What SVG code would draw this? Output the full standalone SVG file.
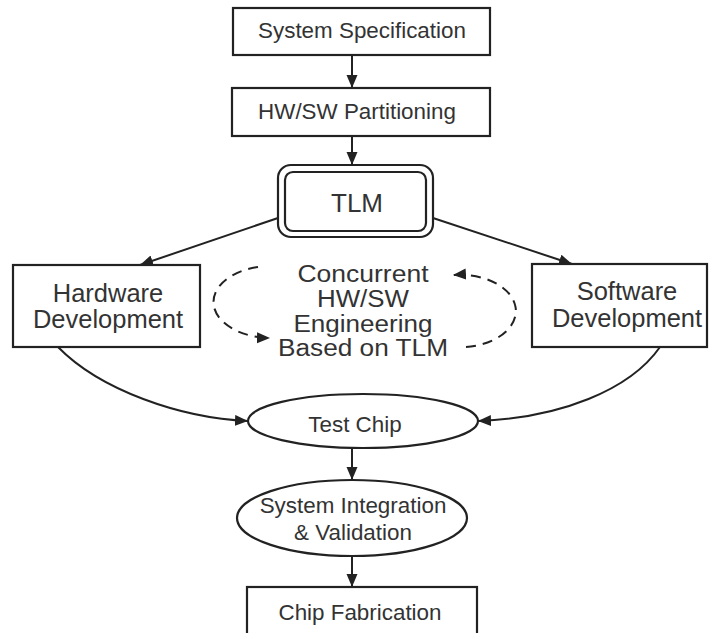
<svg xmlns="http://www.w3.org/2000/svg" width="710" height="633" viewBox="0 0 710 633">
  <defs>
    <marker id="ah" markerUnits="userSpaceOnUse" markerWidth="14" markerHeight="12" refX="13" refY="5.5" orient="auto">
      <path d="M0,0 L13,5.5 L0,11 z" fill="#222"/>
    </marker>
    <style>
      .box { fill: #fff; stroke: #222; stroke-width: 2.2; }
      .ln { fill: none; stroke: #222; stroke-width: 2; }
      .dash { fill: none; stroke: #222; stroke-width: 2; stroke-dasharray: 10 7; }
      text { font-family: "Liberation Sans", Arial, sans-serif; fill: #333; text-anchor: middle; }
      .t22 { font-size: 22.4px; }
      .t25 { font-size: 25.5px; }
      .t26 { font-size: 26px; }
      .tc { font-size: 23px; }
    </style>
  </defs>
  <rect width="710" height="633" fill="#fff"/>

  <g id="connectors">
    <line class="ln" x1="352" y1="55" x2="352" y2="88" marker-end="url(#ah)"/>
    <line class="ln" x1="352" y1="136" x2="352" y2="165" marker-end="url(#ah)"/>
    <line class="ln" x1="278" y1="218" x2="140" y2="265" marker-end="url(#ah)"/>
    <line class="ln" x1="433" y1="218" x2="572" y2="264" marker-end="url(#ah)"/>
    <path class="ln" d="M58,347 C100,390 180,418 248,421" marker-end="url(#ah)"/>
    <path class="ln" d="M660,347 C630,390 560,418 478,421" marker-end="url(#ah)"/>
    <line class="ln" x1="352" y1="448" x2="352" y2="480" marker-end="url(#ah)"/>
    <line class="ln" x1="352" y1="557" x2="352" y2="587" marker-end="url(#ah)"/>
    <path class="dash" d="M258,267 A58,36 0 0 0 270,338" marker-end="url(#ah)"/>
    <path class="dash" d="M466,347 A56,36 0 0 0 453,275" marker-end="url(#ah)"/>
  </g>

  <g id="system-specification">
    <rect class="box" x="233" y="8" width="257" height="47"/>
    <text class="t22" x="362" y="38">System Specification</text>
  </g>
  <g id="hwsw-partitioning">
    <rect class="box" x="232" y="88" width="258" height="48"/>
    <text class="t22" x="357" y="119">HW/SW Partitioning</text>
  </g>
  <g id="tlm">
    <rect class="box" x="278" y="165" width="155" height="72" rx="13" ry="13"/>
    <rect class="box" x="285" y="172" width="141" height="59" rx="8" ry="8"/>
    <text class="t26" x="357" y="212">TLM</text>
  </g>
  <g id="hardware-development">
    <rect class="box" x="13" y="265" width="187" height="82"/>
    <text class="t25" x="108" y="302">Hardware</text>
    <text class="t25" x="108" y="328">Development</text>
  </g>
  <g id="software-development">
    <rect class="box" x="532" y="264" width="175" height="83"/>
    <text class="t25" x="627" y="300">Software</text>
    <text class="t25" x="627" y="327">Development</text>
  </g>
  <g id="concurrent-label">
    <text class="tc" x="363" y="282" textLength="131" lengthAdjust="spacingAndGlyphs">Concurrent</text>
    <text class="tc" x="363" y="307" textLength="92" lengthAdjust="spacingAndGlyphs">HW/SW</text>
    <text class="tc" x="363" y="332" textLength="139" lengthAdjust="spacingAndGlyphs">Engineering</text>
    <text class="tc" x="363" y="356" textLength="170" lengthAdjust="spacingAndGlyphs">Based on TLM</text>
  </g>
  <g id="test-chip">
    <ellipse class="box" cx="363" cy="421" rx="115" ry="27"/>
    <text class="t22" x="355" y="432">Test Chip</text>
  </g>
  <g id="system-integration">
    <ellipse class="box" cx="352" cy="518" rx="115" ry="38"/>
    <text class="t22" x="353" y="513">System Integration</text>
    <text class="t22" x="353" y="540">&amp; Validation</text>
  </g>
  <g id="chip-fabrication">
    <rect class="box" x="247" y="587" width="230" height="60"/>
    <text class="t22" x="360" y="620">Chip Fabrication</text>
  </g>
</svg>
